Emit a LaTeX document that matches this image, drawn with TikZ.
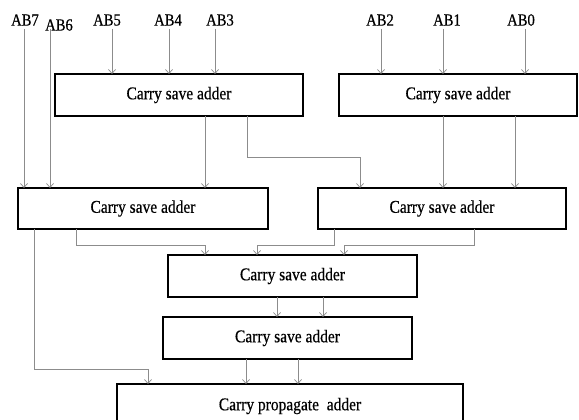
\documentclass[tikz,border=0pt]{standalone}
\usepackage{fontspec}
\setmainfont[FakeStretch=0.86,FakeBold=0.5]{Liberation Serif}
\usetikzlibrary{arrows.meta}

\tikzset{
  adder/.style={draw=black, line width=1.4pt, inner sep=0pt, outer sep=0pt,
    font=\fontsize{18}{20}\selectfont},
  inlabel/.style={inner sep=0pt, font=\fontsize{17}{19}\selectfont},
  wire/.style={draw=black!45, line width=0.8pt,
    -{Straight Barb[length=4pt,width=7pt,line width=0.7pt]}},
}

\begin{document}
\begin{tikzpicture}[x=1pt, y=-1pt]
  \clip (0,0) rectangle (579,420);
  \fill[white] (0,0) rectangle (579,420);

  % adder boxes
  \node[adder, minimum width=248pt, minimum height=42pt] (csa1) at (179,95) {Carry save adder};
  \node[adder, minimum width=238pt, minimum height=42pt] (csa2) at (458,95) {Carry save adder};
  \node[adder, minimum width=250pt, minimum height=41pt] (csa3) at (143,208.5) {Carry save adder};
  \node[adder, minimum width=248pt, minimum height=41pt] (csa4) at (442,208.5) {Carry save adder};
  \node[adder, minimum width=249pt, minimum height=42pt] (csa5) at (292.5,276) {Carry save adder};
  \node[adder, minimum width=249pt, minimum height=42pt] (csa6) at (287.5,338) {Carry save adder};
  \node[adder, minimum width=346pt, minimum height=44pt] (cpa) at (290,406) {Carry propagate\ \ adder};

  % partial product inputs
  \node[inlabel] (ab7) at (25,20) {AB7};
  \node[inlabel] (ab6) at (59,25) {AB6};
  \node[inlabel] (ab5) at (107,20) {AB5};
  \node[inlabel] (ab4) at (168,20) {AB4};
  \node[inlabel] (ab3) at (220,20) {AB3};
  \node[inlabel] (ab2) at (380,20) {AB2};
  \node[inlabel] (ab1) at (447,20) {AB1};
  \node[inlabel] (ab0) at (521,20) {AB0};

  % input wires
  \draw[wire] ([xshift=-1pt,yshift=-3pt]ab7.south) -- ([xshift=6pt]csa3.north west);
  \draw[wire] ([xshift=-9pt,yshift=-3pt]ab6.south |- ab7.south) -- ([xshift=32pt]csa3.north west);
  \draw[wire] ([xshift=5pt,yshift=-3pt]ab5.south) -- ([xshift=57pt]csa1.north west);
  \draw[wire] ([xshift=1pt,yshift=-3pt]ab4.south) -- ([xshift=114pt]csa1.north west);
  \draw[wire] ([xshift=-5pt,yshift=-3pt]ab3.south) -- ([xshift=160pt]csa1.north west);
  \draw[wire] ([xshift=1pt,yshift=-3pt]ab2.south) -- ([xshift=42pt]csa2.north west);
  \draw[wire] ([xshift=-4pt,yshift=-3pt]ab1.south) -- ([xshift=104pt]csa2.north west);
  \draw[wire] ([xshift=4pt,yshift=-3pt]ab0.south) -- ([xshift=186pt]csa2.north west);

  % first level to second level
  \draw[wire] ([xshift=150pt]csa1.south west) -- ([xshift=187pt]csa3.north west);
  \draw[wire] ([xshift=192pt]csa1.south west) |- ++(0,41) -| ([xshift=42pt]csa4.north west);
  \draw[wire] ([xshift=104pt]csa2.south west) -- ([xshift=125pt]csa4.north west);
  \draw[wire] ([xshift=176pt]csa2.south west) -- ([xshift=197pt]csa4.north west);

  % second level to third level
  \draw[wire] ([xshift=58pt]csa3.south west) |- ++(0,16) -| ([xshift=37pt]csa5.north west);
  \draw[wire] ([xshift=16pt]csa4.south west) |- ++(0,16) -| ([xshift=89pt]csa5.north west);
  \draw[wire] ([xshift=156pt]csa4.south west) |- ++(0,16) -| ([xshift=176pt]csa5.north west);

  % third level to fourth level
  \draw[wire] ([xshift=109pt]csa5.south west) -- ([xshift=114pt]csa6.north west);
  \draw[wire] ([xshift=155pt]csa5.south west) -- ([xshift=160pt]csa6.north west);

  % into the carry propagate adder
  \draw[wire] ([xshift=16pt]csa3.south west) |- ++(0,140) -| ([xshift=31pt]cpa.north west);
  \draw[wire] ([xshift=83pt]csa6.south west) -- ([xshift=129pt]cpa.north west);
  \draw[wire] ([xshift=135pt]csa6.south west) -- ([xshift=181pt]cpa.north west);
\end{tikzpicture}
\end{document}
